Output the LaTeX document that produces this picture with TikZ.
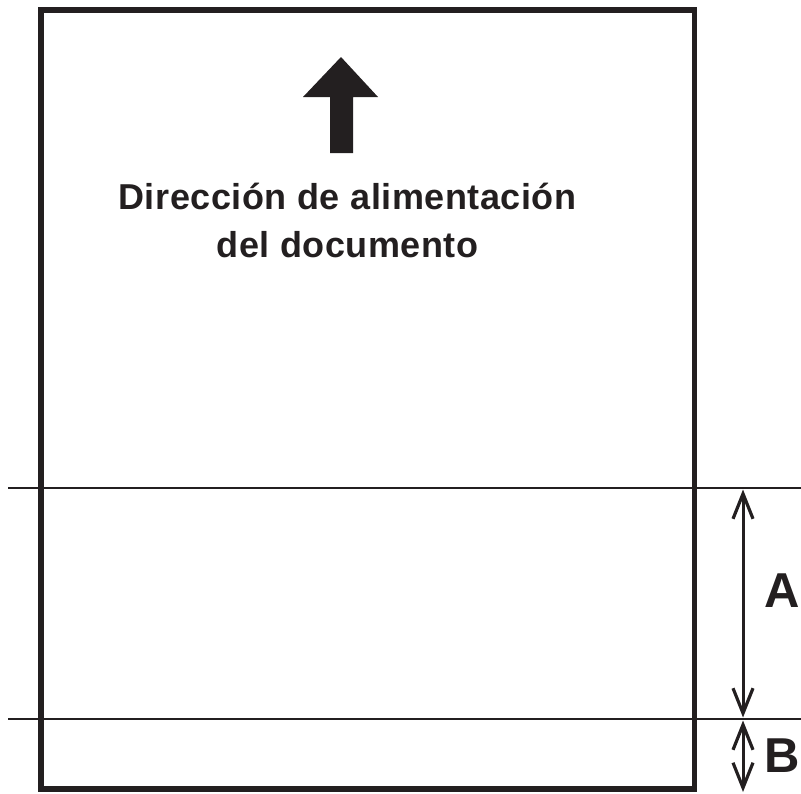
\documentclass[tikz,border=0pt]{standalone}
\usepackage{fontspec}
\setmainfont{Liberation Sans}
\usetikzlibrary{arrows.meta}
\definecolor{ink}{HTML}{231F20}
\begin{document}
\begin{tikzpicture}[x=1pt,y=-1pt,
  frame/.style={line width=5.5pt,color=ink},
  rule/.style={line width=2.8pt,color=ink},
  dim/.style={line width=3pt,color=ink,>={Straight Barb[length=25pt,width=20pt,line width=3.2pt]},<->},
  label/.style={font=\fontsize{49}{56}\selectfont\bfseries,text=ink,inner sep=0pt}]
\useasboundingbox (0,0) rectangle (801,793);
% page frame
\draw[frame] (41,10) rectangle (694.5,789);
% cut lines
\coordinate (l1a) at (8,488);
\coordinate (l1b) at (801,488);
\coordinate (l2a) at (8,719);
\coordinate (l2b) at (801,719);
\draw[rule] (l1a) -- (l1b);
\draw[rule] (l2a) -- (l2b);
% dimension arrows
\coordinate (a1) at (743,489.5);
\coordinate (a2) at (743,717.5);
\coordinate (b1) at (743,720.5);
\coordinate (b2) at (743,792);
\draw[dim] (a1) -- (a2);
\draw[dim] (b1) -- (b2);
\node[label,anchor=base east] (A) at (800,607) {A};
\node[label,anchor=base east] (B) at (800,772) {B};
% feed arrow
\fill[ink] (341,57) -- (378,97) -- (353,97) -- (353,153) -- (330,153) -- (330,97) -- (303,97) -- cycle;
\node[font=\fontsize{36}{48}\selectfont\bfseries\addfontfeature{LetterSpace=1.5},text=ink,align=center,anchor=base,inner sep=0pt] (t) at (347.5,257) {Dirección de alimentación\\del documento};
\end{tikzpicture}
\end{document}
